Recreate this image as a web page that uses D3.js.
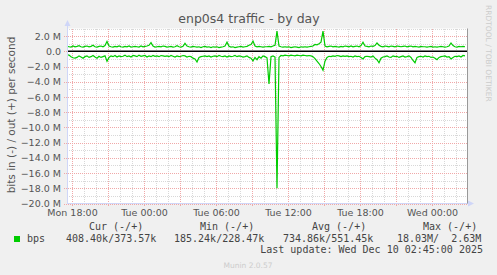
<!DOCTYPE html>
<html>
<head>
<meta charset="utf-8">
<script src="https://cdn.jsdelivr.net/npm/d3@7"></script>
<style>
  body { margin: 0; background: #f0f0f0; }
  svg { display: block; }
</style>
</head>
<body>
<div id="chart"></div>
<script>
// Data (values in M bits/s, one sample every 10 minutes from Mon 17:35)
var outValues = [
  0.65,0.6,0.55,0.7,0.6,0.65,0.75,0.6,0.55,0.65,
  0.7,0.6,0.65,0.8,0.6,0.55,0.65,0.7,0.6,0.75,
  1.3,0.7,0.6,0.55,0.65,0.6,0.7,0.6,0.55,0.65,
  0.6,0.7,0.55,0.6,0.65,0.6,0.55,0.7,0.6,0.65,
  0.7,0.8,1.15,0.7,0.55,0.6,0.65,0.6,0.7,0.65,
  0.55,0.6,0.65,0.55,0.6,0.75,0.6,0.55,0.65,1.05,
  0.7,0.6,0.55,0.65,0.6,0.55,0.6,0.5,0.6,0.65,
  0.55,0.6,0.5,0.6,0.55,0.6,0.5,0.55,0.6,0.7,
  1.2,0.65,0.55,0.6,0.5,0.55,0.6,0.65,0.55,0.6,
  0.65,0.8,0.9,1.35,0.7,0.6,0.65,0.6,0.55,0.6,
  0.6,0.65,0.6,0.7,0.8,2.65,0.7,0.6,0.55,0.6,
  0.55,0.6,0.5,0.55,0.6,0.55,0.5,0.6,0.55,0.6,
  0.55,0.6,0.65,0.7,0.9,0.85,1.0,1.2,2.65,0.7,
  0.6,0.65,0.7,0.6,0.65,0.6,0.55,0.65,0.6,0.7,
  0.65,0.6,0.7,0.6,0.65,0.7,0.6,0.75,1.2,0.7,
  0.65,0.6,0.7,0.65,0.75,1.1,0.8,0.65,0.6,0.7,
  0.65,0.6,0.7,0.65,0.6,0.7,0.65,0.6,0.65,0.7,
  0.6,0.65,0.7,0.6,0.65,0.6,0.55,0.65,0.6,0.6,
  0.55,0.6,0.65,0.55,0.6,0.55,0.6,0.65,0.6,0.55,
  0.6,0.7,1.1,0.75,0.6,0.55,0.65,0.6,0.65,0.6
];
var inValues = [
  -0.45,-0.5,-0.7,-0.85,-0.9,-0.8,-0.6,-0.75,-0.9,-0.7,
  -0.6,-0.8,-0.7,-0.55,-0.75,-0.9,-0.65,-0.8,-0.7,-0.6,
  -1.3,-0.8,-0.6,-0.7,-0.55,-0.75,-0.6,-0.7,-0.65,-0.5,
  -0.7,-0.6,-0.75,-0.55,-0.6,-0.7,-0.5,-0.65,-0.6,-0.55,
  -0.75,-0.6,-0.7,-0.55,-0.65,-0.6,-0.7,-0.55,-0.6,-0.65,
  -0.6,-0.7,-0.55,-0.65,-0.75,-0.6,-0.7,-0.65,-0.55,-0.6,
  -0.75,-0.65,-0.7,-0.9,-1.0,-1.4,-0.8,-0.7,-0.65,-0.6,
  -0.7,-0.6,-0.75,-0.65,-0.6,-0.7,-0.55,-0.65,-0.7,-0.6,
  -0.75,-0.6,-0.7,-0.65,-0.55,-0.7,-0.6,-0.65,-0.75,-0.7,
  -0.6,-0.8,-0.9,-1.25,-0.8,-1.1,-0.7,-0.9,-0.6,-0.7,
  -0.85,-4.3,-0.7,-0.6,-0.75,-18.0,-0.8,-0.55,-0.6,-0.5,
  -0.55,-0.6,-0.5,-0.55,-0.6,-0.5,-0.55,-0.6,-0.5,-0.55,
  -0.6,-0.55,-0.6,-0.7,-0.95,-1.3,-1.6,-2.0,-2.5,-1.3,
  -0.8,-0.65,-0.7,-0.6,-0.65,-0.55,-0.6,-0.7,-0.6,-0.65,
  -0.6,-0.7,-0.65,-0.75,-0.6,-0.7,-0.65,-0.8,-1.0,-0.7,
  -0.65,-0.7,-0.75,-0.6,-0.9,-1.1,-1.5,-0.9,-0.75,-0.7,
  -0.6,-0.75,-0.8,-0.6,-0.7,-0.65,-0.8,-0.7,-0.6,-0.75,
  -0.7,-0.6,-0.8,-1.2,-1.5,-0.8,-0.7,-0.65,-0.75,-0.6,
  -0.7,-0.65,-0.8,-0.75,-0.9,-1.1,-0.8,-0.7,-0.65,-0.6,
  -0.75,-0.7,-1.0,-0.8,-0.65,-0.7,-0.6,-0.75,-0.55,-0.6
];
var yTicks = [2, 0, -2, -4, -6, -8, -10, -12, -14, -16, -18, -20];
var legendHeaders = ["Cur (-/+)", "Min (-/+)", "Avg (-/+)", "Max (-/+)"];
var legendValues = ["408.40k/373.57k", "185.24k/228.47k", "734.86k/551.45k", "18.03M/  2.63M"];

var startTime = new Date(2025, 11, 8, 17, 35);
var endTime = new Date(2025, 11, 10, 2, 55);
var stepMs = 10 * 60 * 1000;

var width = 497, height = 275;
var plotLeft = 67, plotRight = 467, plotTop = 28.5, plotBottom = 203.5;

var svg = d3.select("#chart").append("svg")
    .attr("width", width)
    .attr("height", height);

svg.append("rect")
    .attr("width", width)
    .attr("height", height)
    .attr("fill", "#f0f0f0");

// Scales
var xScale = d3.scaleTime()
    .domain([startTime, endTime])
    .range([plotLeft, plotRight]);
var yScale = d3.scaleLinear()
    .domain([-20, 3])
    .range([plotBottom, plotTop]);

// Canvas
svg.append("rect")
    .attr("x", plotLeft)
    .attr("y", plotTop)
    .attr("width", plotRight - plotLeft)
    .attr("height", plotBottom - plotTop)
    .attr("fill", "#ffffff");

// Grid
var gridG = svg.append("g").attr("shape-rendering", "crispEdges");
var minorHours = d3.timeHour.range(startTime, endTime);
var majorHours = d3.timeHour.every(3).range(startTime, endTime);

gridG.selectAll(".vminor")
    .data(minorHours)
    .enter().append("line")
    .attr("x1", d => Math.round(xScale(d)) + 0.5)
    .attr("x2", d => Math.round(xScale(d)) + 0.5)
    .attr("y1", plotTop)
    .attr("y2", plotBottom)
    .attr("stroke", "#d8d8d8")
    .attr("stroke-dasharray", "1,1");

gridG.selectAll(".hminor")
    .data(d3.range(-19, 4, 2))
    .enter().append("line")
    .attr("x1", plotLeft)
    .attr("x2", plotRight)
    .attr("y1", d => Math.round(yScale(d)) + 0.5)
    .attr("y2", d => Math.round(yScale(d)) + 0.5)
    .attr("stroke", "#d8d8d8")
    .attr("stroke-dasharray", "1,1");

gridG.selectAll(".vmajor")
    .data(majorHours)
    .enter().append("line")
    .attr("x1", d => Math.round(xScale(d)) + 0.5)
    .attr("x2", d => Math.round(xScale(d)) + 0.5)
    .attr("y1", plotTop)
    .attr("y2", plotBottom + 3)
    .attr("stroke", "#f0a8a8")
    .attr("stroke-dasharray", "1,1");

gridG.selectAll(".hmajor")
    .data(yTicks)
    .enter().append("line")
    .attr("x1", plotLeft - 3)
    .attr("x2", plotRight)
    .attr("y1", d => Math.round(yScale(d)) + 0.5)
    .attr("y2", d => Math.round(yScale(d)) + 0.5)
    .attr("stroke", "#f0a8a8")
    .attr("stroke-dasharray", "1,1");

// Series
var outData = outValues.map((v, i) => ({t: new Date(+startTime + i * stepMs), v: v}));
var inData = inValues.map((v, i) => ({t: new Date(+startTime + i * stepMs), v: v}));

var line = d3.line()
    .x(d => xScale(d.t))
    .y(d => yScale(d.v));

svg.append("path")
    .datum(inData)
    .attr("d", line)
    .attr("fill", "none")
    .attr("stroke", "#00cc00")
    .attr("stroke-width", 1.2);

svg.append("path")
    .datum(outData)
    .attr("d", line)
    .attr("fill", "none")
    .attr("stroke", "#00cc00")
    .attr("stroke-width", 1.2);

// Zero rule
svg.append("line")
    .attr("x1", plotLeft)
    .attr("x2", plotRight)
    .attr("y1", yScale(0))
    .attr("y2", yScale(0))
    .attr("stroke", "#000")
    .attr("stroke-width", 1.5);

// Axes lines and arrows
svg.append("line")
    .attr("x1", plotLeft + 0.5).attr("x2", plotLeft + 0.5)
    .attr("y1", 24).attr("y2", plotBottom)
    .attr("stroke", "#cfd6f8");
svg.append("line")
    .attr("x1", plotLeft).attr("x2", plotRight + 1)
    .attr("y1", plotBottom).attr("y2", plotBottom)
    .attr("stroke", "#cfd6f8");
svg.append("path")
    .attr("d", "M" + (plotLeft - 2.5) + ",26 L" + (plotLeft + 0.5) + ",20 L" + (plotLeft + 3.5) + ",26 Z")
    .attr("fill", "#cfd6f8");
svg.append("path")
    .attr("d", "M" + (plotRight + 1) + "," + (plotBottom - 3) + " L" + (plotRight + 7) + "," + plotBottom + " L" + (plotRight + 1) + "," + (plotBottom + 3) + " Z")
    .attr("fill", "#cfd6f8");
svg.append("line")
    .attr("x1", plotRight + 0.5).attr("x2", plotRight + 0.5)
    .attr("y1", plotTop).attr("y2", plotBottom)
    .attr("stroke", "#999");

// Y axis labels
var yAxis = d3.axisLeft(yScale)
    .tickValues(yTicks)
    .tickSize(0)
    .tickPadding(6)
    .tickFormat(d => d === 0 ? "0.0" : d3.format(".1f")(d) + " M");
var yAxisG = svg.append("g")
    .attr("transform", "translate(" + plotLeft + ",0)")
    .call(yAxis);
yAxisG.select(".domain").remove();
yAxisG.selectAll("text")
    .attr("font-family", "DejaVu Sans")
    .attr("font-size", "9.5px")
    .attr("fill", "#555");

// X axis labels
var xAxis = d3.axisBottom(xScale)
    .tickValues(d3.timeHour.every(6).range(startTime, endTime))
    .tickSize(0)
    .tickPadding(6)
    .tickFormat(d3.timeFormat("%a %H:%M"));
var xAxisG = svg.append("g")
    .attr("transform", "translate(0," + plotBottom + ")")
    .call(xAxis);
xAxisG.select(".domain").remove();
xAxisG.selectAll("text")
    .attr("font-family", "DejaVu Sans")
    .attr("font-size", "9.5px")
    .attr("fill", "#555");

// Title
svg.append("text")
    .attr("x", 249)
    .attr("y", 23)
    .attr("text-anchor", "middle")
    .attr("font-family", "DejaVu Sans")
    .attr("font-size", "12.5px")
    .attr("fill", "#555")
    .text("enp0s4 traffic - by day");

// Vertical axis title
svg.append("text")
    .attr("transform", "translate(15,115)rotate(-90)")
    .attr("text-anchor", "middle")
    .attr("font-family", "DejaVu Sans")
    .attr("font-size", "10.5px")
    .attr("fill", "#555")
    .text("bits in (-) / out (+) per second");

// RRDtool credit
svg.append("text")
    .attr("transform", "translate(486,5)rotate(90)")
    .attr("font-family", "DejaVu Sans")
    .attr("font-size", "7.5px")
    .attr("fill", "#cccccc")
    .text("RRDTOOL / TOBI OETIKER");

// Legend
var headerX = [89, 200, 312, 423];
var valueX = [66, 174, 283, 397];
var mono = "DejaVu Sans Mono";

svg.selectAll(".lhead")
    .data(legendHeaders)
    .enter().append("text")
    .attr("x", (d, i) => headerX[i])
    .attr("y", 230)
    .attr("font-family", mono)
    .attr("font-size", "10px")
    .attr("fill", "#444")
    .style("white-space", "pre")
    .text(d => d);

svg.append("rect")
    .attr("x", 14)
    .attr("y", 236)
    .attr("width", 6)
    .attr("height", 6)
    .attr("fill", "#00cc00");

svg.append("text")
    .attr("x", 27)
    .attr("y", 242)
    .attr("font-family", mono)
    .attr("font-size", "10px")
    .attr("fill", "#444")
    .text("bps");

svg.selectAll(".lval")
    .data(legendValues)
    .enter().append("text")
    .attr("x", (d, i) => valueX[i])
    .attr("y", 242)
    .attr("font-family", mono)
    .attr("font-size", "10px")
    .attr("fill", "#444")
    .style("white-space", "pre")
    .text(d => d);

svg.append("text")
    .attr("x", 483)
    .attr("y", 253)
    .attr("text-anchor", "end")
    .attr("font-family", mono)
    .attr("font-size", "10px")
    .attr("fill", "#444")
    .text("Last update: Wed Dec 10 02:45:00 2025");

svg.append("text")
    .attr("x", 248)
    .attr("y", 268)
    .attr("text-anchor", "middle")
    .attr("font-family", "DejaVu Sans")
    .attr("font-size", "7.5px")
    .attr("fill", "#cccccc")
    .text("Munin 2.0.57");
</script>
</body>
</html>
